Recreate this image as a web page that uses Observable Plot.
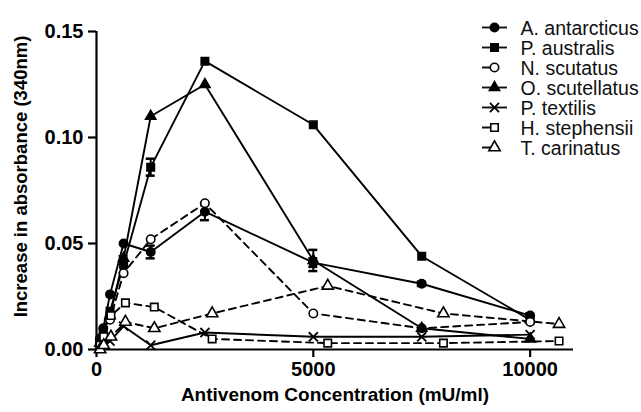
<!DOCTYPE html>
<html>
<head>
<meta charset="utf-8">
<script src="https://cdn.jsdelivr.net/npm/d3@7"></script>
<script src="https://cdn.jsdelivr.net/npm/@observablehq/plot@0.6"></script>
<style>
  html, body { margin: 0; padding: 0; background: #fff; }
  #wrap { position: relative; width: 641px; height: 412px; }
  #legend { position: absolute; left: 470px; top: 0px; }
</style>
</head>
<body>
<div id="wrap"><div id="chart"></div><div id="legend"></div></div>
<script>
// Concentrations (mU/ml)
const xStd = [78, 156, 312, 625, 1250, 2500, 5000, 7500, 10000];
const xAlt = [83, 167, 333, 667, 1333, 2667, 5333, 8000, 10667];

const seriesNames = ["A. antarcticus", "P. australis", "N. scutatus", "O. scutellatus", "P. textilis", "H. stephensii", "T. carinatus"];

// Increase in absorbance (340nm)
const aAntarcticus  = [0.005, 0.010, 0.026, 0.050, 0.046, 0.065, 0.041, 0.031, 0.016];
const pAustralis    = [0.003, 0.008, 0.018, 0.040, 0.086, 0.136, 0.106, 0.044, 0.014];
const nScutatus     = [0.002, 0.006, 0.014, 0.036, 0.052, 0.069, 0.017, 0.010, 0.013];
const oScutellatus  = [0.003, 0.008, 0.016, 0.043, 0.110, 0.125, 0.042, 0.010, 0.005];
const pTextilis     = [0.001, 0.002, 0.004, 0.011, 0.002, 0.008, 0.006, 0.006, 0.007];
const hStephensii   = [0.002, 0.006, 0.016, 0.022, 0.020, 0.005, 0.003, 0.003, 0.004];
const tCarinatus    = [0.000, 0.002, 0.006, 0.013, 0.010, 0.017, 0.030, 0.017, 0.012];

// SEM
const aAntarcticusErr = [0, 0, 0, 0, 0.003, 0.004, 0.002, 0.001, 0.001];
const pAustralisErr   = [0, 0, 0, 0.004, 0.004, 0, 0, 0, 0];
const nScutatusErr    = [0, 0, 0, 0, 0, 0, 0, 0, 0];
const oScutellatusErr = [0, 0, 0, 0, 0, 0, 0.005, 0, 0];
const pTextilisErr    = [0, 0, 0, 0, 0, 0, 0, 0, 0];
const hStephensiiErr  = [0, 0, 0, 0, 0, 0, 0, 0, 0];
const tCarinatusErr   = [0, 0, 0, 0, 0, 0, 0, 0, 0];

const xTicks = [0, 5000, 10000];
const yTicks = [0, 0.05, 0.10, 0.15];
const xLabel = "Antivenom Concentration (mU/ml)";
const yLabel = "Increase in absorbance (340nm)";

// style per series: symbol, filled, dashed
const styles = [
  {symbol: "circle",   fill: "black", dash: null},
  {symbol: "square",   fill: "black", dash: null},
  {symbol: "circle",   fill: "white", dash: "7,5"},
  {symbol: "triangle", fill: "black", dash: null},
  {symbol: "times",    fill: "none",  dash: null},
  {symbol: "square",   fill: "white", dash: "7,5"},
  {symbol: "triangle", fill: "white", dash: "7,5"}
];
const values = [aAntarcticus, pAustralis, nScutatus, oScutellatus, pTextilis, hStephensii, tCarinatus];
const errs = [aAntarcticusErr, pAustralisErr, nScutatusErr, oScutellatusErr, pTextilisErr, hStephensiiErr, tCarinatusErr];
const xs = [xStd, xStd, xStd, xStd, xStd, xAlt, xAlt];

const series = seriesNames.map((name, s) => ({
  name, style: styles[s],
  data: values[s].map((v, i) => ({x: xs[s][i], y: v, e: errs[s][i]}))
}));

const symR = st => st.symbol === "triangle" ? (st.fill === "white" ? 4.2 : 3.8) : 4.2;

const marks = [];
// axes lines
marks.push(Plot.ruleY([0], {x1: 0, x2: 11000, strokeWidth: 2.2}));
marks.push(Plot.ruleX([0], {y1: 0, y2: 0.15, strokeWidth: 2.2}));
for (const s of series) {
  const st = s.style;
  const eb = s.data.filter(d => d.e > 0);
  marks.push(Plot.ruleX(eb, {x: "x", y1: d => d.y - d.e, y2: d => d.y + d.e, strokeWidth: 2}));
  marks.push(Plot.ruleY(eb, {y: d => d.y - d.e, x1: "x", x2: "x", insetLeft: -4.5, insetRight: -4.5, strokeWidth: 2.5}));
  marks.push(Plot.ruleY(eb, {y: d => d.y + d.e, x1: "x", x2: "x", insetLeft: -4.5, insetRight: -4.5, strokeWidth: 2.5}));
  marks.push(Plot.line(s.data, {x: "x", y: "y", stroke: "black", strokeWidth: 1.9, strokeDasharray: st.dash || undefined}));
}
for (const s of series) {
  const st = s.style;
  marks.push(Plot.dot(s.data, {x: "x", y: "y", symbol: () => st.symbol, r: symR(st),
    fill: st.fill, stroke: "black", strokeWidth: st.symbol === "times" ? 1.8 : 1.6}));
}
marks.push(Plot.text([xLabel], {frameAnchor: "bottom", dy: 51, fontSize: 19, fontWeight: "bold"}));
marks.push(Plot.text([yLabel], {frameAnchor: "left", textAnchor: "middle", rotate: -90, dx: -75, dy: -14, fontSize: 18.5, fontWeight: "bold"}));

const chart = Plot.plot({
  width: 641, height: 412,
  marginLeft: 96, marginRight: 68, marginTop: 31, marginBottom: 63,
  style: {fontFamily: "'Liberation Sans', Arial, sans-serif", fontSize: "20px", fontWeight: "bold", background: "white", overflow: "visible", color: "black"},
  x: {domain: [0, 11000], ticks: xTicks, tickFormat: d3.format("d"), tickSize: 8, tickPadding: 4, label: null},
  y: {domain: [0, 0.15], ticks: yTicks, tickFormat: d3.format(".2f"), tickSize: 8, tickPadding: 5, label: null},
  symbol: {type: "identity"},
  marks
});
document.getElementById("chart").appendChild(chart);
d3.select(chart).selectAll("[aria-label='x-axis'] line, [aria-label='y-axis'] line, g[aria-label='x-axis tick'] path, g[aria-label='y-axis tick'] path").attr("stroke-width", 2.2);

// Legend
const legendRows = series.map(s => ({name: s.name, style: s.style}));
const legMarks = [];
for (const r of legendRows) {
  legMarks.push(Plot.ruleY([r.name], {x1: 12, x2: 37, strokeWidth: 1.9, strokeDasharray: r.style.dash ? "12,3,2,30" : undefined}));
  legMarks.push(Plot.dot([r.name], {x: 24, y: d => d, symbol: () => r.style.symbol, r: symR(r.style),
    fill: r.style.fill, stroke: "black", strokeWidth: r.style.symbol === "times" ? 1.8 : 1.6}));
}
legMarks.push(Plot.text(legendRows, {x: 50, y: "name", text: "name", textAnchor: "start", dy: 1}));
const legend = Plot.plot({
  width: 171, height: 175, margin: 0,
  style: {fontFamily: "'Liberation Sans', Arial, sans-serif", fontSize: "19.5px", background: "transparent", overflow: "visible", color: "#111"},
  x: {type: "linear", domain: [0, 171], range: [0, 171], axis: null},
  y: {type: "point", domain: seriesNames, range: [14, 160], axis: null},
  symbol: {type: "identity"},
  marks: legMarks
});
document.getElementById("legend").appendChild(legend);
</script>
</body>
</html>
